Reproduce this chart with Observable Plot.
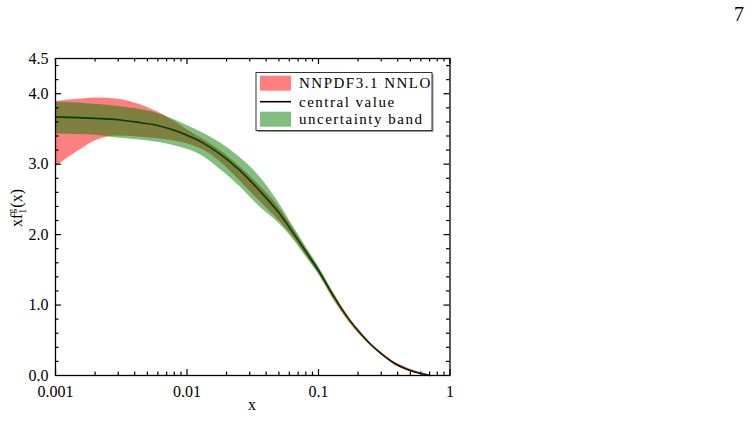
<!DOCTYPE html>
<html>
<head>
<meta charset="utf-8">
<script src="https://cdn.jsdelivr.net/npm/d3@7"></script>
<script src="https://cdn.jsdelivr.net/npm/@observablehq/plot@0.6"></script>
<style>
  html, body { margin: 0; padding: 0; background: #fff; }
  #chart svg { display: block; }
</style>
</head>
<body>
<div id="chart"></div>
<script>
// Gluon distribution x f_1^g(x): NNPDF3.1 NNLO band, central value and uncertainty band
const xs      = [0.001, 0.0015, 0.002, 0.003, 0.004, 0.006, 0.008, 0.01, 0.013, 0.018, 0.025, 0.035, 0.05, 0.065, 0.08, 0.1, 0.13, 0.17, 0.21, 0.25, 0.3, 0.38, 0.47, 0.58, 0.7];
const central = [3.67, 3.66, 3.65, 3.63, 3.60, 3.55, 3.48, 3.41, 3.31, 3.14, 2.92, 2.64, 2.31, 2.01, 1.76, 1.49, 1.13, 0.80, 0.59, 0.44, 0.31, 0.17, 0.09, 0.035, 0.0];
const nnpdfLo = [2.96, 3.19, 3.33, 3.40, 3.39, 3.36, 3.33, 3.29, 3.21, 3.03, 2.77, 2.49, 2.20, 1.95, 1.71, 1.45, 1.08, 0.76, 0.56, 0.42, 0.29, 0.15, 0.07, 0.02, 0.0];
const nnpdfHi = [3.89, 3.92, 3.94, 3.92, 3.87, 3.74, 3.61, 3.49, 3.36, 3.19, 2.97, 2.71, 2.39, 2.07, 1.81, 1.53, 1.17, 0.83, 0.62, 0.46, 0.33, 0.19, 0.11, 0.05, 0.01];
const bandLo  = [3.43, 3.42, 3.41, 3.37, 3.35, 3.31, 3.26, 3.21, 3.12, 2.92, 2.69, 2.41, 2.16, 1.92, 1.69, 1.44, 1.09, 0.78, 0.575, 0.43, 0.30, 0.162, 0.085, 0.03, 0.0];
const bandHi  = [3.88, 3.87, 3.85, 3.82, 3.79, 3.72, 3.63, 3.55, 3.45, 3.30, 3.10, 2.84, 2.45, 2.10, 1.83, 1.55, 1.17, 0.82, 0.605, 0.45, 0.32, 0.178, 0.095, 0.04, 0.005];

// Axis ticks and labels
const xMajor = [0.001, 0.01, 0.1, 1];
const xTickLabels = ["0.001", "0.01", "0.1", "1"];
const xMinor = [0.002, 0.003, 0.004, 0.005, 0.006, 0.007, 0.008, 0.009,
                0.02, 0.03, 0.04, 0.05, 0.06, 0.07, 0.08, 0.09,
                0.2, 0.3, 0.4, 0.5, 0.6, 0.7, 0.8, 0.9];
const yMajor = [1, 2, 3, 4];
const yLabelTicks = [0, 1, 2, 3, 4, 4.5];
const yTickLabels = ["0.0", "1.0", "2.0", "3.0", "4.0", "4.5"];
const yMinor = [0.2, 0.4, 0.6, 0.8, 1.2, 1.4, 1.6, 1.8, 2.2, 2.4, 2.6, 2.8, 3.2, 3.4, 3.6, 3.8, 4.2, 4.4];

const legendLabels = ["NNPDF3.1 NNLO", "central value", "uncertainty band"];
const pageNumber = "7";

const rows = xs.map((x, i) => ({
  x, c: central[i], rl: nnpdfLo[i], rh: nnpdfHi[i], gl: bandLo[i], gh: bandHi[i]
}));

const font = "'Liberation Serif', 'DejaVu Serif', serif";

// frame geometry
const W = 754, H = 424;
const mL = 55, mR = 304.5, mT = 58, mB = 49;
const frameW = W - mL - mR, frameH = H - mT - mB;

// inward-pointing ticks on all four sides of the frame
function xTicks(values, len) {
  return [
    Plot.tickX(values, {x: d => d, insetTop: frameH - len, stroke: "black", strokeWidth: 1.2}),
    Plot.tickX(values, {x: d => d, insetBottom: frameH - len, stroke: "black", strokeWidth: 1.2})
  ];
}
function yTicks(values, len) {
  return [
    Plot.tickY(values, {y: d => d, insetRight: frameW - len, stroke: "black", strokeWidth: 1.2}),
    Plot.tickY(values, {y: d => d, insetLeft: frameW - len, stroke: "black", strokeWidth: 1.2})
  ];
}

const chart = Plot.plot({
  width: W,
  height: H,
  marginLeft: mL,
  marginRight: mR,
  marginTop: mT,
  marginBottom: mB,
  style: {fontFamily: font, fontSize: "16px", color: "black", background: "white"},
  x: {type: "log", domain: [0.001, 1], label: null},
  y: {domain: [0, 4.5], label: null},
  marks: [
    Plot.areaY(rows, {x: "x", y1: "rl", y2: "rh", fill: "red", fillOpacity: 0.5, curve: "monotone-x"}),
    Plot.lineY(rows, {x: "x", y: "c", stroke: "black", strokeWidth: 1.6, curve: "monotone-x"}),
    Plot.areaY(rows, {x: "x", y1: "gl", y2: "gh", fill: "green", fillOpacity: 0.5, curve: "monotone-x"}),
    ...xTicks(xMajor, 6),
    ...xTicks(xMinor, 3.5),
    ...yTicks(yMajor, 6),
    ...yTicks(yMinor, 3.5),
    Plot.frame({stroke: "black", strokeWidth: 1.3}),
    Plot.axisX(xMajor, {anchor: "bottom", tickSize: 0, tickPadding: 10, label: null,
      tickFormat: d => xTickLabels[xMajor.indexOf(d)]}),
    Plot.axisY(yLabelTicks, {anchor: "left", tickSize: 0, tickPadding: 7, label: null,
      tickFormat: d => yTickLabels[yLabelTicks.indexOf(d)]})
  ]
});

document.getElementById("chart").appendChild(chart);

const svg = d3.select(chart);

// axis titles
svg.append("text")
  .attr("x", 252).attr("y", 410)
  .attr("text-anchor", "middle")
  .attr("font-family", font).attr("font-size", 16)
  .text("x");

const yl = svg.append("text")
  .attr("transform", "translate(22,208) rotate(-90)")
  .attr("text-anchor", "middle")
  .attr("font-family", font).attr("font-size", 16);
yl.append("tspan").text("xf");
yl.append("tspan").attr("dy", 4).attr("font-size", 10).text("1");
yl.append("tspan").attr("dx", -5).attr("dy", -11).attr("font-size", 10).text("g");
yl.append("tspan").attr("dx", 1).attr("dy", 7).text("(x)");

// legend
const lg = svg.append("g").attr("font-family", font).attr("font-size", 15).attr("text-anchor", "start");
lg.append("rect").attr("x", 257.5).attr("y", 74).attr("width", 176).attr("height", 58).attr("fill", "#9a9a9a");
lg.append("rect").attr("x", 256).attr("y", 72.5).attr("width", 176).attr("height", 58)
  .attr("fill", "white").attr("stroke", "#333").attr("stroke-width", 1);
const rowY = [83.2, 101.7, 119.2];
legendLabels.forEach((t, i) => {
  if (i === 1) {
    lg.append("line").attr("x1", 260).attr("x2", 291).attr("y1", rowY[i]).attr("y2", rowY[i])
      .attr("stroke", "black").attr("stroke-width", 1.6);
  } else {
    lg.append("rect").attr("x", 260).attr("y", rowY[i] - 7.5).attr("width", 31).attr("height", 15)
      .attr("fill", i === 0 ? "red" : "green").attr("fill-opacity", 0.5);
  }
  lg.append("text").attr("x", 299).attr("y", rowY[i] + 5)
    .attr("text-anchor", "start")
    .attr("letter-spacing", 1.5).text(t);
});

// page number
svg.append("text")
  .attr("x", 739).attr("y", 21)
  .attr("text-anchor", "middle")
  .attr("font-family", font).attr("font-size", 20)
  .text(pageNumber);
</script>
</body>
</html>
